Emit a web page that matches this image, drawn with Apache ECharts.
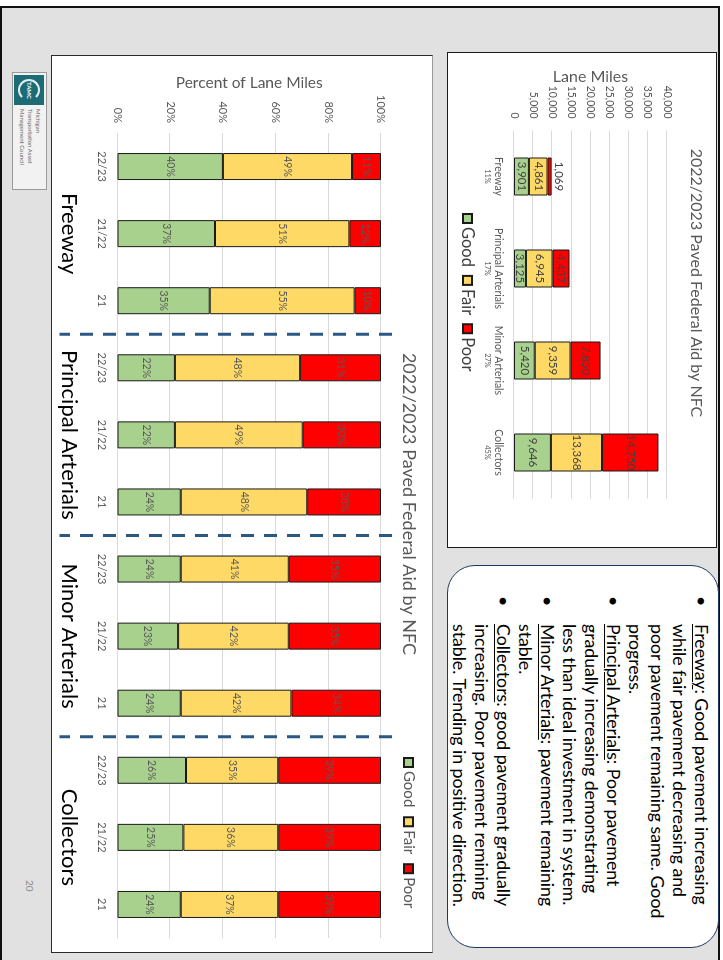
<!DOCTYPE html>
<html>
<head>
<meta charset="utf-8">
<title>2022/2023 Paved Federal Aid by NFC</title>
<script src="https://cdn.jsdelivr.net/npm/echarts@6.0.0/dist/echarts.min.js"></script>
<style>
  html, body { margin:0; padding:0; width:723px; height:960px; overflow:hidden; background:#fff; }
  /* the slide is laid out landscape and turned a quarter turn clockwise */
  #slide { position:absolute; left:0; top:0; width:960px; height:723px; transform-origin:0 0;
           transform:translate(723px,0) rotate(90deg); overflow:hidden;
           font-family:Lato, "Open Sans", sans-serif; }
  #frame { position:absolute; left:6px; top:3px; width:1000px; height:720px; box-sizing:border-box;
           border:2.5px solid #111; background:#e1e1e1; }
  .panel { position:absolute; background:#fff; box-sizing:border-box; }
  #milesBox { left:52px; top:6px; width:496px; height:270px; border:1.5px solid #1a1a1a; }
  #pctBox { left:55px; top:290px; width:898px; height:382px; border:1.5px solid #2a2a2a; border-top-color:#9a9a9a; }
  #notes { left:565px; top:4px; width:383px; height:272px; border:1.5px solid #1f3864; border-radius:28px; overflow:hidden; }
  #notes ul { list-style:none; margin:0; padding:6px 0 0 0; }
  #notes li { position:relative; padding-left:58px; font-size:17.7px; line-height:22px; color:#000; white-space:nowrap; }
  #notes li::before { content:"\2022"; position:absolute; left:30px; }
  #notes u { text-decoration-thickness:1px; text-underline-offset:2px; }
  #logo { position:absolute; left:72px; top:676px; width:118px; height:35px; box-sizing:border-box;
          border:1px solid #9a9a9a; background:#f2f2f2; }
  #logo .mark { position:absolute; left:2px; top:2px; width:30px; height:30px; background:#1d6b74; }
  #logo .mark::before { content:""; position:absolute; left:4px; top:4px; width:18px; height:18px; border-radius:50%;
          border:2px solid #dfeff0; border-right-color:transparent; }
  #logo .mark span { position:absolute; left:7px; top:11px; font-size:6px; color:#fff; font-weight:bold; }
  #logo .org { position:absolute; left:36px; top:4px; font-size:6px; line-height:8px; color:#666; }
  #pageNo { position:absolute; left:880px; top:687px; font-size:10px; color:#8c8c8c; }
  #chart { position:absolute; left:0; top:0; width:960px; height:723px; }
</style>
</head>
<body>
<div id="slide">
  <div id="frame"></div>
  <div class="panel" id="milesBox"></div>
  <div class="panel" id="pctBox"></div>
  <div class="panel" id="notes">
    <ul>
      <li><u>Freeway</u>: Good pavement increasing<br>while fair pavement decreasing and<br>poor pavement remaining same. Good<br>progress.</li>
      <li><u>Principal Arterials</u>: Poor pavement<br>gradually increasing demonstrating<br>less than ideal investment in system.</li>
      <li><u>Minor Arterials</u>: pavement remaining<br>stable.</li>
      <li><u>Collectors</u>: good pavement gradually<br>increasing. Poor pavement remining<br>stable. Trending in positive direction.</li>
    </ul>
  </div>
  <div id="logo"><div class="mark"><span>TAMC</span></div><div class="org">Michigan<br>Transportation Asset<br>Management Council</div></div>
  <div id="pageNo">20</div>
  <div id="chart"></div>
</div>
<script>
// Lane miles by National Functional Classification (2022/2023)
const nfcNames = ['Freeway', 'Principal Arterials', 'Minor Arterials', 'Collectors'];
const nfcShare = ['11%', '17%', '27%', '45%'];
const goodMiles = [3901, 3125, 5420, 9646];
const fairMiles = [4861, 6945, 9359, 13368];
const poorMiles = [1069, 4437, 7850, 14750];

// Condition share by class and rating period
const periodLabels = ['22/23', '21/22', '21', '22/23', '21/22', '21', '22/23', '21/22', '21', '22/23', '21/22', '21'];
const goodPct = [40, 37, 35, 22, 22, 24, 24, 23, 24, 26, 25, 24];
const fairPct = [49, 51, 55, 48, 49, 48, 41, 42, 42, 35, 36, 37];
const poorPct = [11, 12, 10, 31, 30, 28, 35, 35, 34, 39, 39, 39];
const classBreaks = [3, 6, 9];   // period slots where a new class begins

const conditionNames = ['Good', 'Fair', 'Poor'];
const conditionColors = ['#a9d18e', '#ffd966', '#ff0000'];
const chartTitle = '2022/2023 Paved Federal Aid by NFC';

const milesByCondition = [goodMiles, fairMiles, poorMiles];
const pctByCondition = [goodPct, fairPct, poorPct];
const periodTotals = goodPct.map((g, i) => g + fairPct[i] + poorPct[i]);

const fontFamily = 'Lato, "Open Sans", sans-serif';
const labelGrey = '#595959';
const fmtMiles = v => Number(v).toLocaleString('en-US');

const chart = echarts.init(document.getElementById('chart'), null, { renderer: 'canvas' });

const milesSeries = conditionNames.map((name, k) => ({
  name, type: 'bar', stack: 'miles', xAxisIndex: 0, yAxisIndex: 0, barWidth: 38,
  itemStyle: { color: conditionColors[k], borderColor: '#1a1a1a', borderWidth: 1 },
  label: { show: true, position: 'inside', fontSize: 11.5, color: '#404040', formatter: p => fmtMiles(p.value) },
  // a segment too thin to hold its number gets the number just above it
  data: milesByCondition[k].map(v => v < 2000 ? { value: v, label: { position: 'top', distance: 1 } } : v)
}));

const pctSeries = conditionNames.map((name, k) => ({
  name, type: 'bar', stack: 'pct', xAxisIndex: 1, yAxisIndex: 1, barWidth: 27,
  itemStyle: { color: conditionColors[k], borderColor: '#1a1a1a', borderWidth: 1 },
  label: { show: true, position: 'inside', fontSize: 10.5, color: labelGrey,
           formatter: p => pctByCondition[k][p.dataIndex] + '%' },
  // 100% stacked: each rating is drawn as its part of the period's total
  data: pctByCondition[k].map((v, i) => v * 100 / periodTotals[i])
}));

const separatorSeries = {
  type: 'custom', xAxisIndex: 3, yAxisIndex: 1, silent: true, clip: false, z: 5,
  data: classBreaks,
  renderItem: (params, api) => {
    const x = api.coord([api.value(0), 0])[0];
    const yTop = api.coord([0, 100])[1] - 11;
    const yBottom = api.coord([0, 0])[1] + 58;
    return { type: 'line', shape: { x1: x, y1: yTop, x2: x, y2: yBottom },
             style: { stroke: '#2a5783', lineWidth: 3, lineDash: [13, 10] } };
  }
};

const hiddenCatAxis = { axisLine: { show: false }, axisTick: { show: false }, splitLine: { show: false } };

const option = {
  animation: false,
  textStyle: { fontFamily },
  title: [
    { text: chartTitle, left: 283, top: 19, textAlign: 'center', padding: 0,
      textStyle: { fontSize: 16, fontWeight: 'normal', color: labelGrey, fontFamily } },
    { text: chartTitle, left: 504, top: 305, textAlign: 'center', padding: 0,
      textStyle: { fontSize: 18, fontWeight: 'normal', color: labelGrey, fontFamily } }
  ],
  legend: [
    { data: conditionNames, left: 213, top: 247, padding: 0, icon: 'rect', itemWidth: 9, itemHeight: 9, itemGap: 8,
      textStyle: { fontSize: 16.5, color: '#404040', fontFamily, padding: [0, 0, 0, -1] } },
    { data: conditionNames, left: 757, top: 307, padding: 0, icon: 'rect', itemWidth: 9, itemHeight: 9, itemGap: 9,
      textStyle: { fontSize: 15, color: labelGrey, fontFamily, padding: [0, 0, 0, -1] } }
  ],
  grid: [
    { left: 130.5, top: 56, width: 368, height: 153, outerBoundsMode: 'none' },
    { left: 133, top: 342, width: 805, height: 263.5, outerBoundsMode: 'none' }
  ],
  xAxis: [
    Object.assign({ gridIndex: 0, type: 'category', data: nfcNames,
      axisLabel: { interval: 0, margin: 9, formatter: (v, i) => `{n|${v}}\n{s|${nfcShare[i]}}`,
        rich: { n: { fontSize: 10.5, color: labelGrey, lineHeight: 13, fontFamily },
                s: { fontSize: 7.5, color: labelGrey, lineHeight: 10, fontFamily } } } }, hiddenCatAxis),
    Object.assign({ gridIndex: 1, type: 'category', data: periodLabels,
      axisLabel: { interval: 0, margin: 10, fontSize: 11, color: labelGrey } }, hiddenCatAxis),
    Object.assign({ gridIndex: 1, type: 'category', data: nfcNames, position: 'bottom',
      axisLabel: { interval: 0, margin: 37, fontSize: 22, color: '#000' } }, hiddenCatAxis),
    { gridIndex: 1, type: 'value', min: 0, max: 12, show: false }
  ],
  yAxis: [
    { gridIndex: 0, type: 'value', min: 0, max: 40000, interval: 5000,
      name: 'Lane Miles', nameLocation: 'middle', nameRotate: 90, nameGap: 46, nameMoveOverlap: false,
      nameTextStyle: { fontSize: 16, color: labelGrey },
      axisLine: { show: false }, axisTick: { show: false },
      axisLabel: { margin: 12, fontSize: 10.5, color: labelGrey, formatter: fmtMiles },
      splitLine: { lineStyle: { color: '#d9d9d9', width: 1 } } },
    { gridIndex: 1, type: 'value', min: 0, max: 100, interval: 20,
      name: 'Percent of Lane Miles', nameLocation: 'middle', nameRotate: 90, nameGap: 42, nameMoveOverlap: false,
      nameTextStyle: { fontSize: 15.5, color: labelGrey },
      axisLine: { show: false }, axisTick: { show: false },
      axisLabel: { margin: 10, fontSize: 11, color: labelGrey, formatter: '{value}%' },
      splitLine: { lineStyle: { color: '#d9d9d9', width: 1 } } }
  ],
  series: [...milesSeries, ...pctSeries, separatorSeries]
};

chart.setOption(option);
</script>
</body>
</html>
